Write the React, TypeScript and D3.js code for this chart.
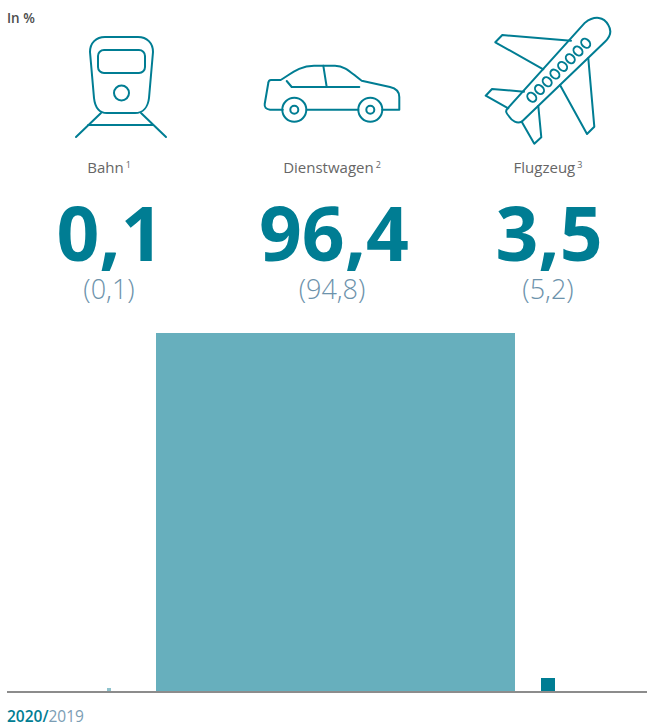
import * as d3 from "d3";

const categories = ["Bahn", "Dienstwagen", "Flugzeug"];
const footnotes = ["1", "2", "3"];
const values2020 = [0.1, 96.4, 3.5];
const values2019 = [0.1, 94.8, 5.2];
const barColors = ["#8fc3cd", "#67afbd", "#007d93"];

const teal = "#007d93";
const font = "'Open Sans', sans-serif";
const baseline = 692;
const centers = [109, 335.5, 548];
const labelCenters = [109, 332, 548];

// bars are drawn as squares, so one scale gives both width and height
const size = d3.scaleLinear().domain([0, 96.4]).range([0, 359]);
const fmt = (v: number) => v.toFixed(1).replace(".", ",");

const iconStyle = { fill: "none", stroke: teal, strokeWidth: 2, strokeLinejoin: "round" as const, strokeLinecap: "round" as const };

function TrainIcon() {
  return (
    <g {...iconStyle}>
      <path d="M105,37 H138 C147,37 153,43 153,52 L149,98 C148,107 143,113 135,113 H107 C99,113 95,107 94,98 L90,52 C90,43 96,37 105,37 Z" />
      <rect x={98} y={50} width={47} height={23} rx={6} />
      <circle cx={121.5} cy={93} r={7.5} />
      <path d="M101,113 L76,137 M141,113 L166,137 M88,125 H153" />
    </g>
  );
}

function CarIcon() {
  return (
    <g {...iconStyle}>
      <path d="M282.7,109.7 H270 Q264,109 264.7,104 L268.3,83 Q268.6,80 271,80 H280.7 C292,73 300,65.7 314,65.7 H335 C346,65.7 352,74 361.7,80.7 L390,87 Q399.3,89 399.3,97 V109.7 H382.3 M306.7,109.7 H358.3" />
      <circle cx={294.3} cy={109.7} r={12} />
      <circle cx={294.3} cy={109.7} r={4} />
      <circle cx={370.3} cy={109.7} r={12} />
      <circle cx={370.3} cy={109.7} r={4} />
      <path d="M286.7,81 L291.7,87 H359.3 M323.3,65.7 L326.7,87" />
    </g>
  );
}

function PlaneIcon() {
  const windows = d3.range(8);
  return (
    <g {...iconStyle}>
      <path d="M507.7,108.3 L585,22.7 C595,15 604,17 608.3,25 C612,31 610,37 605,41.7 L521.7,121.7 C517,124 512,121 509.3,116.7 C506,113 505,111 507.7,108.3 Z" />
      <path d="M571,40.7 L502.3,35 L495.3,42.3 L543.3,69.3" />
      <path d="M588.3,58.3 L594.3,126.7 L587,134 L560,85" />
      <path d="M524,91.7 L492,89 L485.7,95.7 L508.3,108.3" />
      <path d="M538.3,106 L541.3,137.3 L534.3,143.7 L521.7,121.7" />
      {windows.map((i) => {
        const x = 585.7 - i * 7.7;
        const y = 43.3 + i * 7.7;
        return <ellipse key={i} cx={x} cy={y} rx={3.9} ry={5} transform={`rotate(-45 ${x} ${y})`} />;
      })}
    </g>
  );
}

export default function App() {
  return (
    <svg
      width={647}
      height={725}
      style={{ position: "absolute", left: 0, top: 0, display: "block" }}
      fontFamily={font}
    >
      <text x={7} y={23} fontSize={13.5} fontWeight={600} fill="#4d4d4d">
        In %
      </text>

      <TrainIcon />
      <CarIcon />
      <PlaneIcon />

      {categories.map((c, i) => (
        <g key={c} textAnchor="middle">
          <text x={labelCenters[i]} y={173} fontSize={15} fill="#666" fontWeight={400}>
            {c}
            <tspan dx={2} dy={-5} fontSize={9}>
              {footnotes[i]}
            </tspan>
          </text>
          <text x={labelCenters[i] + (i === 1 ? 2 : 1)} y={261} fontSize={75} fontWeight={700} fill={teal}>
            {fmt(values2020[i])}
          </text>
          <text x={labelCenters[i]} y={299} fontSize={27} fontWeight={300} fill="#6c92ab">
            ({fmt(values2019[i])})
          </text>
        </g>
      ))}

      {values2020.map((v, i) => {
        const s = Math.max(Math.ceil(size(v)), 4); // 0,1 would vanish otherwise
        return (
          <rect
            key={categories[i]}
            x={centers[i] - s / 2}
            y={baseline - s}
            width={s}
            height={s}
            fill={barColors[i]}
          />
        );
      })}

      <line x1={7} x2={647} y1={baseline} y2={baseline} stroke="#8c8c8c" strokeWidth={2} />

      <text x={7} y={722} fontSize={15.5}>
        <tspan fontWeight={600} fill={teal}>
          2020/
        </tspan>
        <tspan fill="#7b9db4" fontWeight={400}>
          2019
        </tspan>
      </text>
    </svg>
  );
}
